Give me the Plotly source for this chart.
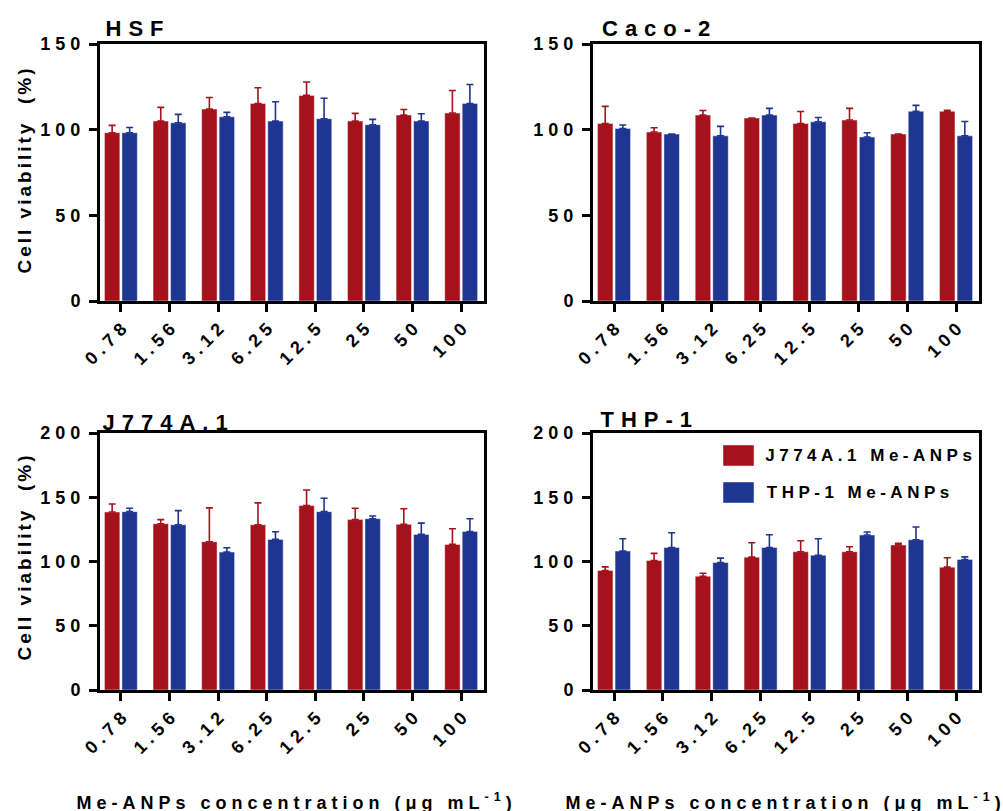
import plotly.graph_objects as go

categories = ["0.78", "1.56", "3.12", "6.25", "12.5", "25", "50", "100"]
series_names = ["J774A.1 Me-ANPs", "THP-1 Me-ANPs"]
panel_titles = ["HSF", "Caco-2", "J774A.1", "THP-1"]
y_max = [150, 150, 200, 200]

hsf_j774 = [98.2, 105.0, 112.0, 115.3, 120.0, 105.0, 108.5, 109.7]
hsf_j774_sd = [4.3, 8.0, 6.8, 9.2, 7.8, 4.5, 3.3, 13.2]
hsf_thp1 = [98.2, 104.0, 107.5, 105.0, 106.4, 102.9, 105.0, 115.3]
hsf_thp1_sd = [3.1, 4.9, 2.6, 11.3, 11.9, 3.1, 4.3, 11.1]

caco_j774 = [103.6, 98.6, 108.5, 106.8, 103.6, 105.6, 97.4, 110.7]
caco_j774_sd = [10.0, 2.5, 2.7, 0.0, 7.0, 6.8, 0.0, 0.6]
caco_thp1 = [100.7, 97.4, 96.4, 108.5, 104.6, 95.7, 110.7, 96.4]
caco_thp1_sd = [2.0, 0.0, 5.5, 3.9, 2.5, 2.5, 3.5, 8.4]

j774_j774 = [138.5, 129.4, 115.4, 128.6, 143.5, 132.6, 128.9, 113.3]
j774_j774_sd = [6.3, 3.2, 26.3, 17.0, 12.2, 8.8, 12.2, 12.2]
j774_thp1 = [138.8, 128.6, 107.3, 117.2, 138.8, 133.3, 121.1, 123.4]
j774_thp1_sd = [2.6, 11.0, 3.4, 6.0, 10.4, 2.1, 8.8, 9.9]

thp_j774 = [93.0, 100.8, 88.5, 103.4, 107.6, 107.6, 112.8, 95.6]
thp_j774_sd = [2.8, 5.5, 2.4, 11.2, 8.5, 3.9, 1.3, 7.3]
thp_thp1 = [108.1, 110.9, 99.2, 110.9, 104.9, 120.6, 116.9, 101.6]
thp_thp1_sd = [9.6, 11.5, 3.4, 9.9, 12.8, 2.3, 9.9, 2.0]

panels = [
    (hsf_j774, hsf_j774_sd, hsf_thp1, hsf_thp1_sd),
    (caco_j774, caco_j774_sd, caco_thp1, caco_thp1_sd),
    (j774_j774, j774_j774_sd, j774_thp1, j774_thp1_sd),
    (thp_j774, thp_j774_sd, thp_thp1, thp_thp1_sd),
]

W, H = 1003, 811
RED = "#A5121B"
BLUE = "#1E3591"
FONT = "Liberation Sans, Arial, Helvetica, sans-serif"


def fx(p):
    return p / W


def fy(p):
    return 1 - p / H


col_dom = [[fx(100), fx(484)], [fx(593), fx(979)]]
row_dom = [[fy(301), fy(44)], [fy(690), fy(433)]]

fig = go.Figure()
layout = dict(
    width=W, height=H, autosize=False,
    margin=dict(l=0, r=0, t=0, b=0, pad=0, autoexpand=False),
    paper_bgcolor="white", plot_bgcolor="white",
    barmode="group", bargap=0.28, bargroupgap=0.12,
    showlegend=False,
    font=dict(family=FONT, size=18, color="black", weight="bold"),
)

for i, (r, rsd, b, bsd) in enumerate(panels):
    n = i + 1
    xa = "x" if n == 1 else f"x{n}"
    ya = "y" if n == 1 else f"y{n}"
    for vals, sd, color, name in ((r, rsd, RED, series_names[0]), (b, bsd, BLUE, series_names[1])):
        fig.add_trace(go.Bar(
            x=categories, y=vals, name=name, xaxis=xa, yaxis=ya,
            marker=dict(color=color, line=dict(color="rgba(255,255,255,0.45)", width=1)),
            error_y=dict(type="data", symmetric=False, array=sd, arrayminus=[0] * len(sd),
                         color=color, thickness=1.6, width=3.5),
            showlegend=False,
        ))
    row, col = divmod(i, 2)
    axis_common = dict(
        showline=True, linewidth=3, linecolor="black", mirror=True,
        ticks="outside", ticklen=8, tickwidth=3, tickcolor="black",
        showgrid=False, zeroline=False, automargin=False,
        tickfont=dict(family=FONT, size=18, color="black", weight="bold"),
    )
    layout["xaxis" if n == 1 else f"xaxis{n}"] = dict(
        axis_common, domain=col_dom[col], anchor=ya, type="category",
        range=[-0.43, 7.47], tickangle=-45,
        ticklabelstandoff=-4, ticklabelshift=4,
    )
    layout["yaxis" if n == 1 else f"yaxis{n}"] = dict(
        axis_common, domain=row_dom[row], anchor=xa,
        range=[0, y_max[i]], dtick=50, tick0=0,
    )

fig.update_layout(**layout)

ann = []
title_pos = [(138, 28), (659, 28), (168.5, 422), (650, 419)]
for t, (px, py) in zip(panel_titles, title_pos):
    ann.append(dict(text=t, x=fx(px), y=fy(py), xref="paper", yref="paper",
                    xanchor="center", yanchor="middle", showarrow=False,
                    font=dict(family=FONT, size=22, color="black", weight="bold")))
for py in (170, 557):
    ann.append(dict(text="Cell viability\u00a0 (%)", x=fx(24), y=fy(py), xref="paper", yref="paper",
                    xanchor="center", yanchor="middle", textangle=-90, showarrow=False,
                    font=dict(family=FONT, size=19, color="black", weight="bold")))
for px in (296, 785):
    ann.append(dict(text="Me-ANPs concentration (\u03bcg mL<sup>-1</sup>)", x=fx(px), y=fy(801),
                    xref="paper", yref="paper", xanchor="center", yanchor="middle",
                    showarrow=False,
                    font=dict(family=FONT, size=18, color="black", weight="bold")))

# legend drawn inside THP-1 panel
leg = [(series_names[0], RED, 445, 466, 871), (series_names[1], BLUE, 482, 503, 860)]
shapes = []
for name, color, y0, y1, tx in leg:
    shapes.append(dict(type="rect", xref="paper", yref="paper",
                       x0=fx(723), x1=fx(754), y0=fy(y1), y1=fy(y0),
                       fillcolor=color, line=dict(color="rgba(255,255,255,0.45)", width=1)))
    ann.append(dict(text=name, x=fx(tx), y=fy((y0 + y1) / 2), xref="paper", yref="paper",
                    xanchor="center", yanchor="middle", showarrow=False,
                    font=dict(family=FONT, size=17, color="black", weight="bold")))

fig.update_layout(annotations=ann, shapes=shapes)

post = """
var m={'22px':'7px','19px':'3px','18px':'5px','17px':'4.5px'};
document.querySelectorAll('svg text').forEach(function(t){
  var fs=t.style.fontSize; if(m[fs]){t.style.letterSpacing=m[fs];}
});
"""
fig.write_html("out.html", post_script=post)
